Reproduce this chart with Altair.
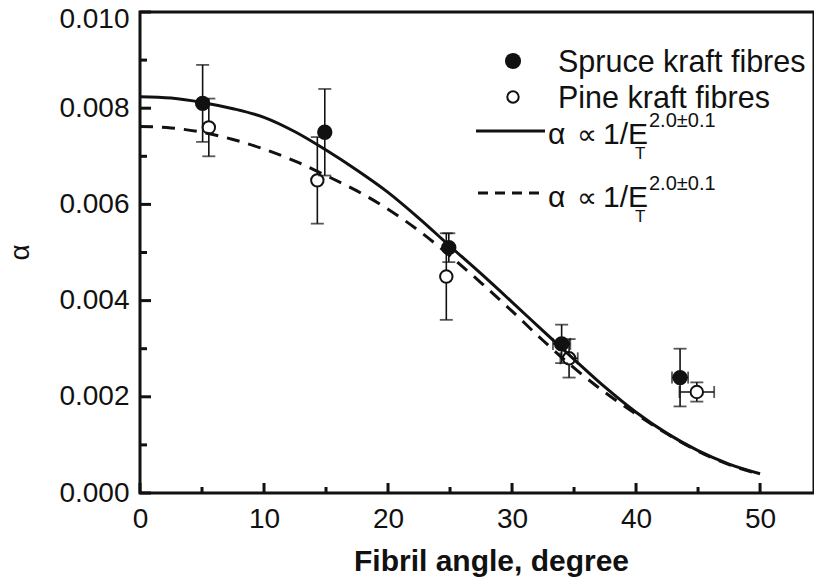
import altair as alt
import pandas as pd

# ---- data ----
spruce_angle = [5.05, 14.9, 24.9, 34.0, 43.55]
spruce_alpha = [0.0081, 0.0075, 0.0051, 0.0031, 0.0024]
spruce_alpha_err = [0.0008, 0.0009, 0.0003, 0.0004, 0.0006]
spruce_angle_err = [0.0, 0.0, 0.0, 0.7, 0.65]

pine_angle = [5.55, 14.3, 24.7, 34.6, 44.9]
pine_alpha = [0.0076, 0.0065, 0.0045, 0.0028, 0.0021]
pine_alpha_err = [0.0006, 0.0009, 0.0009, 0.0004, 0.0002]
pine_angle_err = [0.0, 0.0, 0.0, 0.7, 1.4]

fit_angle = [0, 2.5, 5, 7.5, 10, 12.5, 15, 17.5, 20, 22.5, 25,
             27.5, 30, 32.5, 35, 37.5, 40, 42.5, 45, 47.5, 50]
fit_spruce = [0.00824, 0.00821, 0.00812, 0.00799, 0.00781, 0.00751, 0.00713,
              0.00671, 0.00625, 0.00571, 0.00513, 0.00456, 0.00397, 0.00337,
              0.00278, 0.00220, 0.00168, 0.00124, 0.00088, 0.00060, 0.00040]
fit_pine = [0.00762, 0.00759, 0.00750, 0.00735, 0.00715, 0.00690, 0.00660,
            0.00628, 0.00590, 0.00545, 0.00493, 0.00437, 0.00378, 0.00317,
            0.00260, 0.00209, 0.00164, 0.00123, 0.00087, 0.00059, 0.00039]

x_major = [0, 10, 20, 30, 40, 50]
x_minor = [5, 15, 25, 35, 45]
y_major = [0.000, 0.002, 0.004, 0.006, 0.008, 0.010]
y_minor = [0.001, 0.003, 0.005, 0.007, 0.009]

INK = "#111111"
W, H = 674, 481
X_MAX = 54.35  # the reference's frame is cropped at the right edge
FONT = "Liberation Sans"


def points(xs, ys, yerr, xerr):
    return pd.DataFrame({
        "x": xs, "y": ys,
        "lo": [a - e for a, e in zip(ys, yerr)],
        "hi": [a + e for a, e in zip(ys, yerr)],
        "xlo": [a - e for a, e in zip(xs, xerr)],
        "xhi": [a + e for a, e in zip(xs, xerr)],
        "xe": xerr,
    })


spruce = points(spruce_angle, spruce_alpha, spruce_alpha_err, spruce_angle_err)
pine = points(pine_angle, pine_alpha, pine_alpha_err, pine_angle_err)
fits = pd.DataFrame({"x": fit_angle, "s": fit_spruce, "p": fit_pine})

XS = alt.Scale(domain=[0, X_MAX], nice=False, zero=False)
YS = alt.Scale(domain=[0, 0.010], nice=False, zero=False)
XAX = alt.Axis(values=x_major, ticks=False, domain=False, grid=False,
               labelFont=FONT, labelFontSize=28, labelColor=INK, labelPadding=12,
               labelOverlap=False, labelFlush=False,
               title="Fibril angle, degree", titleFont=FONT,
               titleFontSize=30, titleFontWeight="bold", titleColor=INK,
               titleX=351, titleY=77, titleAlign="center",
               titleBaseline="alphabetic", titleAnchor="middle")
YAX = alt.Axis(values=y_major, format=".3f", ticks=False, domain=False,
               grid=False, labelFont=FONT, labelFontSize=28, labelColor=INK,
               labelPadding=11, labelOverlap=False, labelFlush=False,
               labelOffset={"condition": {"test": "datum.value > 0.0095", "value": 7},
                            "value": 0},
               title="α", titleFont=FONT, titleFontSize=28,
               titleFontWeight="normal", titleColor=INK, titleAngle=270,
               titleX=-120, titleY=240, titleAlign="center",
               titleBaseline="middle")


def X(f):
    return alt.X(f, type="quantitative", scale=XS, axis=XAX)


def Y(f):
    return alt.Y(f, type="quantitative", scale=YS, axis=YAX)


def errbars(df):
    v = alt.Chart(df).mark_rule(color=INK, strokeWidth=1.6).encode(
        x=X("x"), y=Y("lo"), y2="hi")
    cap_hi = alt.Chart(df).mark_tick(orient="horizontal", size=13, thickness=1.8,
                                     color=INK).encode(x=X("x"), y=Y("hi"))
    cap_lo = alt.Chart(df).mark_tick(orient="horizontal", size=13, thickness=1.8,
                                     color=INK).encode(x=X("x"), y=Y("lo"))
    dfx = df[df["xe"] > 0]
    h = alt.Chart(dfx).mark_rule(color=INK, strokeWidth=1.6).encode(
        x=X("xlo"), x2="xhi", y=Y("y"))
    cap_l = alt.Chart(dfx).mark_tick(orient="vertical", size=12, thickness=1.8,
                                     color=INK).encode(x=X("xlo"), y=Y("y"))
    cap_r = alt.Chart(dfx).mark_tick(orient="vertical", size=12, thickness=1.8,
                                     color=INK).encode(x=X("xhi"), y=Y("y"))
    return [v, cap_hi, cap_lo, h, cap_l, cap_r]


pine_pts = alt.Chart(pine).mark_point(shape="circle", filled=False, fill="white",
                                      fillOpacity=1, stroke=INK, strokeWidth=2,
                                      size=155, opacity=1).encode(x=X("x"), y=Y("y"))
spruce_pts = alt.Chart(spruce).mark_point(shape="circle", filled=True, color=INK,
                                          size=235, opacity=1).encode(x=X("x"), y=Y("y"))

line_s = alt.Chart(fits).mark_line(color=INK, strokeWidth=3,
                                   interpolate="monotone").encode(x=X("x"), y=Y("s"))
line_p = alt.Chart(fits).mark_line(color=INK, strokeWidth=3, strokeDash=[13, 9],
                                   interpolate="monotone").encode(x=X("x"), y=Y("p"))

# inward ticks
ymaj = alt.Chart(pd.DataFrame({"v": y_major})).mark_rule(color=INK, strokeWidth=3).encode(
    y=Y("v"), x=alt.value(0), x2=alt.value(11))
ymin = alt.Chart(pd.DataFrame({"v": y_minor})).mark_rule(color=INK, strokeWidth=3).encode(
    y=Y("v"), x=alt.value(0), x2=alt.value(7))
xmaj = alt.Chart(pd.DataFrame({"v": x_major})).mark_rule(color=INK, strokeWidth=3).encode(
    x=X("v"), y=alt.value(H), y2=alt.value(H - 10))
xmin = alt.Chart(pd.DataFrame({"v": x_minor})).mark_rule(color=INK, strokeWidth=3).encode(
    x=X("v"), y=alt.value(H), y2=alt.value(H - 6))

# hand-made legend
one = pd.DataFrame({"k": [0]})
leg = [
    alt.Chart(one).mark_point(shape="circle", filled=True, color=INK, size=260,
                              opacity=1).encode(x=alt.value(373), y=alt.value(49)),
    alt.Chart(one).mark_point(shape="circle", filled=False, stroke=INK, strokeWidth=2,
                              size=130, opacity=1).encode(x=alt.value(373), y=alt.value(85)),
    alt.Chart(one).mark_rule(color=INK, strokeWidth=3).encode(
        x=alt.value(336), x2=alt.value(405), y=alt.value(119)),
    alt.Chart(one).mark_rule(color=INK, strokeWidth=3, strokeDash=[10, 7]).encode(
        x=alt.value(338), x2=alt.value(405), y=alt.value(181)),
]


def txt(s, x, y, size, base="alphabetic"):
    return alt.Chart(one).mark_text(text=s, font=FONT, fontSize=size, color=INK,
                                    align="left", baseline=base).encode(
        x=alt.value(x), y=alt.value(y))


leg += [
    txt("Spruce kraft fibres", 418, 60, 30.5),
    txt("Pine kraft fibres", 418, 96, 30.5),
]
for yb in (132, 195):
    leg += [
        txt("α", 408, yb, 30),
        txt("∝", 437, yb, 28),
        txt("1/E", 463, yb, 30),
        txt("T", 495, yb + 15, 17),
        txt("2.0±0.1", 509, yb - 17, 20),
    ]

layers = (errbars(pine) + [pine_pts] + errbars(spruce) + [spruce_pts, line_p, line_s]
          + [ymaj, ymin, xmaj, xmin] + leg)

chart = alt.layer(*layers).properties(
    width=W, height=H,
    autosize=alt.AutoSizeParams(type="none"),
    padding={"left": 132, "top": 4, "right": 0, "bottom": 88},
    background="white",
).configure_view(stroke=INK, strokeWidth=3)

chart.save("out.html", embed_options={"renderer": "svg", "actions": False})
